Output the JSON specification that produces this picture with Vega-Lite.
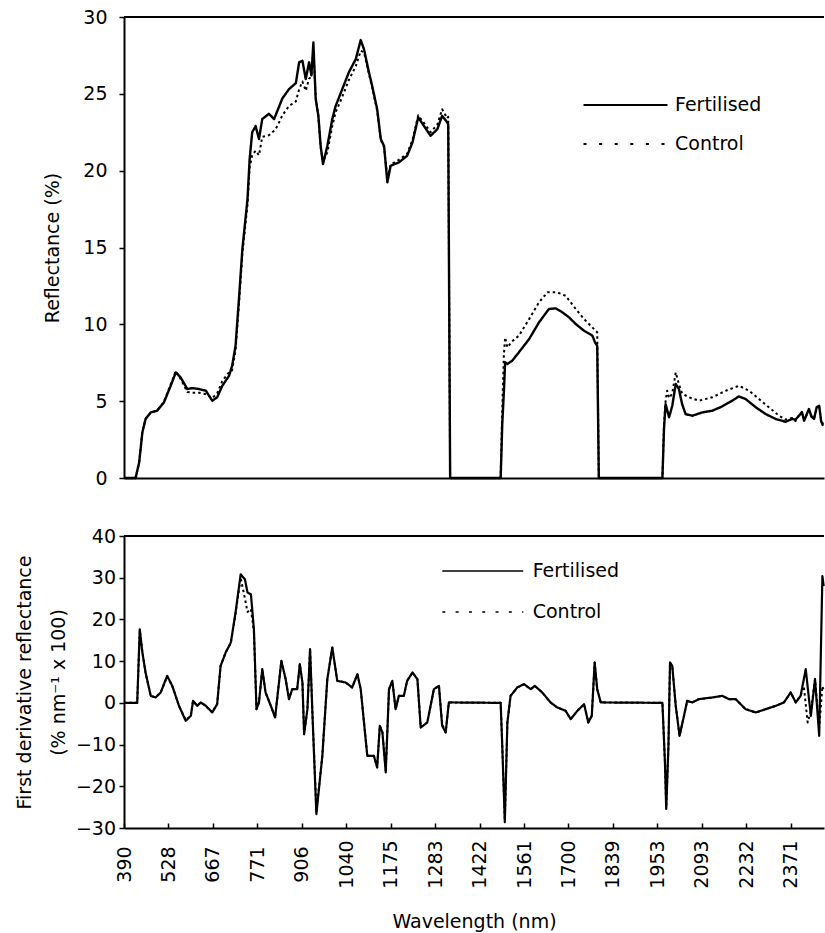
{
  "$schema": "https://vega.github.io/schema/vega-lite/v6.json",
  "background": "white",
  "padding": {"left": 15, "top": 8, "right": 0, "bottom": 0},
  "bounds": "flush",
  "spacing": 58,
  "datasets": {
    "top": [
      {"w":390,"s":"Control","v":0},{"w":426,"s":"Control","v":0},{"w":437,"s":"Control","v":1.0},{"w":447,"s":"Control","v":3.0},{"w":457,"s":"Control","v":3.85},{"w":473,"s":"Control","v":4.25},{"w":493,"s":"Control","v":4.4},{"w":514,"s":"Control","v":4.95},{"w":535,"s":"Control","v":6.1},{"w":551,"s":"Control","v":6.95},{"w":566,"s":"Control","v":6.45},{"w":587,"s":"Control","v":5.6},{"w":603,"s":"Control","v":5.55},{"w":624,"s":"Control","v":5.55},{"w":645,"s":"Control","v":5.45},{"w":665,"s":"Control","v":5.2},{"w":677,"s":"Control","v":5.5},{"w":689,"s":"Control","v":6.3},{"w":705,"s":"Control","v":6.9},{"w":712,"s":"Control","v":7.0},{"w":720,"s":"Control","v":8.3},{"w":728,"s":"Control","v":11.3},{"w":736,"s":"Control","v":14.6},{"w":748,"s":"Control","v":17.8},{"w":753,"s":"Control","v":20.2},{"w":759,"s":"Control","v":21.0},{"w":767,"s":"Control","v":21.3},{"w":776,"s":"Control","v":21.0},{"w":786,"s":"Control","v":22.2},{"w":806,"s":"Control","v":22.3},{"w":822,"s":"Control","v":22.6},{"w":832,"s":"Control","v":22.9},{"w":847,"s":"Control","v":23.6},{"w":867,"s":"Control","v":24.2},{"w":888,"s":"Control","v":24.5},{"w":898,"s":"Control","v":25.3},{"w":908,"s":"Control","v":25.8},{"w":918,"s":"Control","v":25.2},{"w":928,"s":"Control","v":26.0},{"w":935,"s":"Control","v":26.1},{"w":941,"s":"Control","v":27.8},{"w":948,"s":"Control","v":24.8},{"w":956,"s":"Control","v":23.5},{"w":963,"s":"Control","v":21.5},{"w":970,"s":"Control","v":20.6},{"w":983,"s":"Control","v":21.2},{"w":998,"s":"Control","v":22.9},{"w":1008,"s":"Control","v":23.8},{"w":1028,"s":"Control","v":24.8},{"w":1048,"s":"Control","v":25.9},{"w":1069,"s":"Control","v":26.8},{"w":1084,"s":"Control","v":27.8},{"w":1094,"s":"Control","v":27.7},{"w":1109,"s":"Control","v":26.3},{"w":1119,"s":"Control","v":25.4},{"w":1134,"s":"Control","v":23.9},{"w":1145,"s":"Control","v":22.0},{"w":1155,"s":"Control","v":21.5},{"w":1165,"s":"Control","v":19.5},{"w":1175,"s":"Control","v":20.4},{"w":1195,"s":"Control","v":20.7},{"w":1215,"s":"Control","v":21.1},{"w":1228,"s":"Control","v":22.0},{"w":1242,"s":"Control","v":23.6},{"w":1256,"s":"Control","v":23.1},{"w":1272,"s":"Control","v":22.5},{"w":1290,"s":"Control","v":23.0},{"w":1305,"s":"Control","v":24.0},{"w":1321,"s":"Control","v":23.4},{"w":1324,"s":"Control","v":23.5},{"w":1330,"s":"Control","v":0},{"w":1488,"s":"Control","v":0},{"w":1493,"s":"Control","v":4.5},{"w":1498,"s":"Control","v":8.0},{"w":1502,"s":"Control","v":9.15},{"w":1509,"s":"Control","v":8.5},{"w":1524,"s":"Control","v":8.9},{"w":1545,"s":"Control","v":9.26},{"w":1577,"s":"Control","v":10.34},{"w":1608,"s":"Control","v":11.43},{"w":1634,"s":"Control","v":12.08},{"w":1665,"s":"Control","v":12.08},{"w":1691,"s":"Control","v":11.86},{"w":1723,"s":"Control","v":11.0},{"w":1749,"s":"Control","v":10.34},{"w":1780,"s":"Control","v":9.69},{"w":1790,"s":"Control","v":9.48},{"w":1795,"s":"Control","v":0},{"w":1969,"s":"Control","v":0},{"w":1974,"s":"Control","v":3.5},{"w":1979,"s":"Control","v":5.0},{"w":1984,"s":"Control","v":5.68},{"w":1990,"s":"Control","v":5.2},{"w":2000,"s":"Control","v":5.5},{"w":2011,"s":"Control","v":6.87},{"w":2021,"s":"Control","v":6.1},{"w":2031,"s":"Control","v":5.5},{"w":2053,"s":"Control","v":5.25},{"w":2084,"s":"Control","v":5.03},{"w":2126,"s":"Control","v":5.25},{"w":2168,"s":"Control","v":5.68},{"w":2209,"s":"Control","v":6.0},{"w":2241,"s":"Control","v":5.68},{"w":2272,"s":"Control","v":5.14},{"w":2303,"s":"Control","v":4.6},{"w":2335,"s":"Control","v":4.05},{"w":2355,"s":"Control","v":3.8},{"w":2376,"s":"Control","v":3.9},{"w":2386,"s":"Control","v":3.7},{"w":2397,"s":"Control","v":4.1},{"w":2406,"s":"Control","v":4.2},{"w":2413,"s":"Control","v":3.8},{"w":2428,"s":"Control","v":4.4},{"w":2436,"s":"Control","v":4.0},{"w":2444,"s":"Control","v":3.9},{"w":2452,"s":"Control","v":4.5},{"w":2460,"s":"Control","v":4.6},{"w":2466,"s":"Control","v":3.8},{"w":2472,"s":"Control","v":3.5},
      {"w":390,"s":"Fertilised","v":0},{"w":426,"s":"Fertilised","v":0},{"w":437,"s":"Fertilised","v":1.0},{"w":447,"s":"Fertilised","v":2.97},{"w":457,"s":"Fertilised","v":3.84},{"w":473,"s":"Fertilised","v":4.27},{"w":493,"s":"Fertilised","v":4.38},{"w":514,"s":"Fertilised","v":4.92},{"w":535,"s":"Fertilised","v":6.0},{"w":551,"s":"Fertilised","v":6.87},{"w":566,"s":"Fertilised","v":6.55},{"w":587,"s":"Fertilised","v":5.79},{"w":603,"s":"Fertilised","v":5.85},{"w":624,"s":"Fertilised","v":5.79},{"w":645,"s":"Fertilised","v":5.68},{"w":665,"s":"Fertilised","v":5.03},{"w":677,"s":"Fertilised","v":5.25},{"w":689,"s":"Fertilised","v":6.0},{"w":705,"s":"Fertilised","v":6.66},{"w":712,"s":"Fertilised","v":7.3},{"w":720,"s":"Fertilised","v":8.6},{"w":728,"s":"Fertilised","v":11.65},{"w":736,"s":"Fertilised","v":14.9},{"w":748,"s":"Fertilised","v":18.15},{"w":753,"s":"Fertilised","v":20.75},{"w":759,"s":"Fertilised","v":22.5},{"w":767,"s":"Fertilised","v":22.9},{"w":776,"s":"Fertilised","v":22.06},{"w":786,"s":"Fertilised","v":23.36},{"w":806,"s":"Fertilised","v":23.7},{"w":822,"s":"Fertilised","v":23.36},{"w":832,"s":"Fertilised","v":23.9},{"w":847,"s":"Fertilised","v":24.7},{"w":867,"s":"Fertilised","v":25.3},{"w":888,"s":"Fertilised","v":25.7},{"w":898,"s":"Fertilised","v":27.05},{"w":908,"s":"Fertilised","v":27.15},{"w":918,"s":"Fertilised","v":25.96},{"w":928,"s":"Fertilised","v":27.05},{"w":935,"s":"Fertilised","v":26.2},{"w":941,"s":"Fertilised","v":28.35},{"w":948,"s":"Fertilised","v":24.66},{"w":956,"s":"Fertilised","v":23.57},{"w":963,"s":"Fertilised","v":21.6},{"w":970,"s":"Fertilised","v":20.43},{"w":983,"s":"Fertilised","v":21.6},{"w":998,"s":"Fertilised","v":23.36},{"w":1008,"s":"Fertilised","v":24.2},{"w":1028,"s":"Fertilised","v":25.3},{"w":1048,"s":"Fertilised","v":26.4},{"w":1069,"s":"Fertilised","v":27.26},{"w":1084,"s":"Fertilised","v":28.5},{"w":1094,"s":"Fertilised","v":27.9},{"w":1109,"s":"Fertilised","v":26.4},{"w":1119,"s":"Fertilised","v":25.5},{"w":1134,"s":"Fertilised","v":24.0},{"w":1145,"s":"Fertilised","v":22.06},{"w":1155,"s":"Fertilised","v":21.6},{"w":1165,"s":"Fertilised","v":19.24},{"w":1175,"s":"Fertilised","v":20.32},{"w":1195,"s":"Fertilised","v":20.54},{"w":1215,"s":"Fertilised","v":20.97},{"w":1228,"s":"Fertilised","v":21.84},{"w":1242,"s":"Fertilised","v":23.47},{"w":1256,"s":"Fertilised","v":22.9},{"w":1272,"s":"Fertilised","v":22.27},{"w":1290,"s":"Fertilised","v":22.7},{"w":1305,"s":"Fertilised","v":23.57},{"w":1321,"s":"Fertilised","v":23.14},{"w":1324,"s":"Fertilised","v":23.0},{"w":1330,"s":"Fertilised","v":0},{"w":1488,"s":"Fertilised","v":0},{"w":1493,"s":"Fertilised","v":3.5},{"w":1498,"s":"Fertilised","v":5.57},{"w":1502,"s":"Fertilised","v":7.53},{"w":1509,"s":"Fertilised","v":7.42},{"w":1524,"s":"Fertilised","v":7.63},{"w":1545,"s":"Fertilised","v":8.18},{"w":1577,"s":"Fertilised","v":9.04},{"w":1608,"s":"Fertilised","v":10.13},{"w":1639,"s":"Fertilised","v":11.0},{"w":1660,"s":"Fertilised","v":11.04},{"w":1681,"s":"Fertilised","v":10.78},{"w":1702,"s":"Fertilised","v":10.45},{"w":1723,"s":"Fertilised","v":10.02},{"w":1749,"s":"Fertilised","v":9.58},{"w":1775,"s":"Fertilised","v":9.26},{"w":1783,"s":"Fertilised","v":8.83},{"w":1790,"s":"Fertilised","v":8.6},{"w":1795,"s":"Fertilised","v":0},{"w":1969,"s":"Fertilised","v":0},{"w":1974,"s":"Fertilised","v":3.19},{"w":1979,"s":"Fertilised","v":4.81},{"w":1990,"s":"Fertilised","v":3.95},{"w":2000,"s":"Fertilised","v":4.7},{"w":2011,"s":"Fertilised","v":6.12},{"w":2021,"s":"Fertilised","v":5.79},{"w":2031,"s":"Fertilised","v":4.81},{"w":2042,"s":"Fertilised","v":4.16},{"w":2063,"s":"Fertilised","v":4.05},{"w":2095,"s":"Fertilised","v":4.27},{"w":2126,"s":"Fertilised","v":4.38},{"w":2157,"s":"Fertilised","v":4.66},{"w":2188,"s":"Fertilised","v":5.03},{"w":2209,"s":"Fertilised","v":5.31},{"w":2230,"s":"Fertilised","v":5.14},{"w":2262,"s":"Fertilised","v":4.6},{"w":2293,"s":"Fertilised","v":4.16},{"w":2324,"s":"Fertilised","v":3.84},{"w":2355,"s":"Fertilised","v":3.66},{"w":2376,"s":"Fertilised","v":3.84},{"w":2386,"s":"Fertilised","v":3.8},{"w":2397,"s":"Fertilised","v":4.05},{"w":2406,"s":"Fertilised","v":4.3},{"w":2413,"s":"Fertilised","v":3.73},{"w":2428,"s":"Fertilised","v":4.49},{"w":2436,"s":"Fertilised","v":4.0},{"w":2444,"s":"Fertilised","v":3.84},{"w":2452,"s":"Fertilised","v":4.6},{"w":2460,"s":"Fertilised","v":4.7},{"w":2466,"s":"Fertilised","v":3.7},{"w":2472,"s":"Fertilised","v":3.4}
    ],
    "bottom": [
      {"w":390,"s":"Control","v":0},{"w":431,"s":"Control","v":0},{"w":439,"s":"Control","v":17.4},{"w":447,"s":"Control","v":12.3},{"w":457,"s":"Control","v":7.1},{"w":473,"s":"Control","v":1.68},{"w":488,"s":"Control","v":1.29},{"w":504,"s":"Control","v":2.49},{"w":524,"s":"Control","v":6.3},{"w":540,"s":"Control","v":4.07},{"w":561,"s":"Control","v":-0.72},{"w":582,"s":"Control","v":-4.1},{"w":598,"s":"Control","v":-3.11},{"w":605,"s":"Control","v":0.48},{"w":618,"s":"Control","v":-0.72},{"w":629,"s":"Control","v":0.1},{"w":645,"s":"Control","v":-0.72},{"w":665,"s":"Control","v":-2.3},{"w":677,"s":"Control","v":-0.31},{"w":685,"s":"Control","v":8.86},{"w":697,"s":"Control","v":12.07},{"w":709,"s":"Control","v":14.46},{"w":720,"s":"Control","v":21.3},{"w":732,"s":"Control","v":30.0},{"w":742,"s":"Control","v":25.0},{"w":748,"s":"Control","v":21.8},{"w":756,"s":"Control","v":22.5},{"w":763,"s":"Control","v":17.0},{"w":769,"s":"Control","v":-1.51},{"w":776,"s":"Control","v":0.1},{"w":786,"s":"Control","v":8.07},{"w":796,"s":"Control","v":2.49},{"w":812,"s":"Control","v":-0.72},{"w":825,"s":"Control","v":-3.5},{"w":844,"s":"Control","v":10.06},{"w":857,"s":"Control","v":5.68},{"w":867,"s":"Control","v":0.89},{"w":877,"s":"Control","v":3.28},{"w":892,"s":"Control","v":3.28},{"w":900,"s":"Control","v":9.27},{"w":908,"s":"Control","v":4.89},{"w":913,"s":"Control","v":-7.5},{"w":923,"s":"Control","v":-1.51},{"w":931,"s":"Control","v":12.86},{"w":938,"s":"Control","v":-2.3},{"w":950,"s":"Control","v":-26.0},{"w":968,"s":"Control","v":-12.69},{"w":983,"s":"Control","v":5.68},{"w":998,"s":"Control","v":13.27},{"w":1013,"s":"Control","v":5.27},{"w":1038,"s":"Control","v":4.89},{"w":1058,"s":"Control","v":3.69},{"w":1074,"s":"Control","v":6.87},{"w":1084,"s":"Control","v":3.28},{"w":1104,"s":"Control","v":-12.69},{"w":1124,"s":"Control","v":-12.69},{"w":1134,"s":"Control","v":-15.47},{"w":1142,"s":"Control","v":-5.5},{"w":1150,"s":"Control","v":-7.09},{"w":1160,"s":"Control","v":-16.2},{"w":1170,"s":"Control","v":3.28},{"w":1179,"s":"Control","v":5.27},{"w":1187,"s":"Control","v":-1.51},{"w":1195,"s":"Control","v":1.68},{"w":1207,"s":"Control","v":1.68},{"w":1215,"s":"Control","v":5.27},{"w":1228,"s":"Control","v":7.28},{"w":1240,"s":"Control","v":5.68},{"w":1248,"s":"Control","v":-5.9},{"w":1264,"s":"Control","v":-4.7},{"w":1280,"s":"Control","v":3.28},{"w":1295,"s":"Control","v":4.07},{"w":1305,"s":"Control","v":-5.0},{"w":1316,"s":"Control","v":-7.09},{"w":1326,"s":"Control","v":0.1},{"w":1488,"s":"Control","v":0},{"w":1493,"s":"Control","v":-10.3},{"w":1501,"s":"Control","v":-28.0},{"w":1509,"s":"Control","v":-4.7},{"w":1519,"s":"Control","v":1.68},{"w":1540,"s":"Control","v":3.69},{"w":1561,"s":"Control","v":4.48},{"w":1582,"s":"Control","v":3.28},{"w":1595,"s":"Control","v":4.07},{"w":1618,"s":"Control","v":2.49},{"w":1644,"s":"Control","v":0.1},{"w":1665,"s":"Control","v":-1.1},{"w":1691,"s":"Control","v":-1.9},{"w":1707,"s":"Control","v":-3.9},{"w":1728,"s":"Control","v":-1.9},{"w":1749,"s":"Control","v":-0.31},{"w":1762,"s":"Control","v":-4.7},{"w":1773,"s":"Control","v":-3.11},{"w":1782,"s":"Control","v":9.67},{"w":1790,"s":"Control","v":3.28},{"w":1801,"s":"Control","v":0.1},{"w":1969,"s":"Control","v":0},{"w":1977,"s":"Control","v":-14.27},{"w":1981,"s":"Control","v":-25.0},{"w":1988,"s":"Control","v":-10.3},{"w":1993,"s":"Control","v":9.67},{"w":2000,"s":"Control","v":8.86},{"w":2011,"s":"Control","v":-0.72},{"w":2023,"s":"Control","v":-7.9},{"w":2037,"s":"Control","v":-3.11},{"w":2047,"s":"Control","v":0.48},{"w":2063,"s":"Control","v":0.1},{"w":2084,"s":"Control","v":0.89},{"w":2126,"s":"Control","v":1.29},{"w":2157,"s":"Control","v":1.68},{"w":2178,"s":"Control","v":0.89},{"w":2199,"s":"Control","v":0.89},{"w":2230,"s":"Control","v":-1.51},{"w":2262,"s":"Control","v":-2.3},{"w":2293,"s":"Control","v":-1.51},{"w":2324,"s":"Control","v":-0.72},{"w":2350,"s":"Control","v":0.1},{"w":2371,"s":"Control","v":2.49},{"w":2387,"s":"Control","v":0.1},{"w":2402,"s":"Control","v":1.68},{"w":2412,"s":"Control","v":4.0},{"w":2424,"s":"Control","v":-4.7},{"w":2434,"s":"Control","v":-2.0},{"w":2447,"s":"Control","v":5.68},{"w":2460,"s":"Control","v":-6.0},{"w":2470,"s":"Control","v":4.0},{"w":2474,"s":"Control","v":3.0},
      {"w":390,"s":"Fertilised","v":0},{"w":431,"s":"Fertilised","v":0},{"w":439,"s":"Fertilised","v":17.65},{"w":447,"s":"Fertilised","v":12.07},{"w":457,"s":"Fertilised","v":7.28},{"w":473,"s":"Fertilised","v":1.68},{"w":488,"s":"Fertilised","v":1.29},{"w":504,"s":"Fertilised","v":2.49},{"w":524,"s":"Fertilised","v":6.47},{"w":540,"s":"Fertilised","v":4.07},{"w":561,"s":"Fertilised","v":-0.72},{"w":582,"s":"Fertilised","v":-4.31},{"w":598,"s":"Fertilised","v":-3.11},{"w":605,"s":"Fertilised","v":0.48},{"w":618,"s":"Fertilised","v":-0.72},{"w":629,"s":"Fertilised","v":0.1},{"w":645,"s":"Fertilised","v":-0.72},{"w":665,"s":"Fertilised","v":-2.3},{"w":677,"s":"Fertilised","v":-0.31},{"w":685,"s":"Fertilised","v":8.86},{"w":697,"s":"Fertilised","v":12.07},{"w":709,"s":"Fertilised","v":14.46},{"w":720,"s":"Fertilised","v":21.65},{"w":732,"s":"Fertilised","v":30.82},{"w":742,"s":"Fertilised","v":29.62},{"w":748,"s":"Fertilised","v":26.44},{"w":756,"s":"Fertilised","v":26.03},{"w":763,"s":"Fertilised","v":17.65},{"w":769,"s":"Fertilised","v":-1.51},{"w":776,"s":"Fertilised","v":0.1},{"w":786,"s":"Fertilised","v":8.07},{"w":796,"s":"Fertilised","v":2.49},{"w":812,"s":"Fertilised","v":-0.72},{"w":825,"s":"Fertilised","v":-3.5},{"w":844,"s":"Fertilised","v":10.06},{"w":857,"s":"Fertilised","v":5.68},{"w":867,"s":"Fertilised","v":0.89},{"w":877,"s":"Fertilised","v":3.28},{"w":892,"s":"Fertilised","v":3.28},{"w":900,"s":"Fertilised","v":9.27},{"w":908,"s":"Fertilised","v":4.89},{"w":913,"s":"Fertilised","v":-7.5},{"w":923,"s":"Fertilised","v":-1.51},{"w":931,"s":"Fertilised","v":12.86},{"w":938,"s":"Fertilised","v":-2.3},{"w":950,"s":"Fertilised","v":-26.65},{"w":968,"s":"Fertilised","v":-12.69},{"w":983,"s":"Fertilised","v":5.68},{"w":998,"s":"Fertilised","v":13.27},{"w":1013,"s":"Fertilised","v":5.27},{"w":1038,"s":"Fertilised","v":4.89},{"w":1058,"s":"Fertilised","v":3.69},{"w":1074,"s":"Fertilised","v":6.87},{"w":1084,"s":"Fertilised","v":3.28},{"w":1104,"s":"Fertilised","v":-12.69},{"w":1124,"s":"Fertilised","v":-12.69},{"w":1134,"s":"Fertilised","v":-15.47},{"w":1142,"s":"Fertilised","v":-5.5},{"w":1150,"s":"Fertilised","v":-7.09},{"w":1160,"s":"Fertilised","v":-16.67},{"w":1170,"s":"Fertilised","v":3.28},{"w":1179,"s":"Fertilised","v":5.27},{"w":1187,"s":"Fertilised","v":-1.51},{"w":1195,"s":"Fertilised","v":1.68},{"w":1207,"s":"Fertilised","v":1.68},{"w":1215,"s":"Fertilised","v":5.27},{"w":1228,"s":"Fertilised","v":7.28},{"w":1240,"s":"Fertilised","v":5.68},{"w":1248,"s":"Fertilised","v":-5.9},{"w":1264,"s":"Fertilised","v":-4.7},{"w":1280,"s":"Fertilised","v":3.28},{"w":1295,"s":"Fertilised","v":4.07},{"w":1305,"s":"Fertilised","v":-5.5},{"w":1316,"s":"Fertilised","v":-7.09},{"w":1326,"s":"Fertilised","v":0.1},{"w":1488,"s":"Fertilised","v":0},{"w":1493,"s":"Fertilised","v":-10.3},{"w":1501,"s":"Fertilised","v":-28.6},{"w":1509,"s":"Fertilised","v":-4.7},{"w":1519,"s":"Fertilised","v":1.68},{"w":1540,"s":"Fertilised","v":3.69},{"w":1561,"s":"Fertilised","v":4.48},{"w":1582,"s":"Fertilised","v":3.28},{"w":1595,"s":"Fertilised","v":4.07},{"w":1618,"s":"Fertilised","v":2.49},{"w":1644,"s":"Fertilised","v":0.1},{"w":1665,"s":"Fertilised","v":-1.1},{"w":1691,"s":"Fertilised","v":-1.9},{"w":1707,"s":"Fertilised","v":-3.9},{"w":1728,"s":"Fertilised","v":-1.9},{"w":1749,"s":"Fertilised","v":-0.31},{"w":1762,"s":"Fertilised","v":-4.7},{"w":1773,"s":"Fertilised","v":-3.11},{"w":1782,"s":"Fertilised","v":9.67},{"w":1790,"s":"Fertilised","v":3.28},{"w":1801,"s":"Fertilised","v":0.1},{"w":1969,"s":"Fertilised","v":0},{"w":1977,"s":"Fertilised","v":-14.27},{"w":1981,"s":"Fertilised","v":-25.45},{"w":1988,"s":"Fertilised","v":-10.3},{"w":1993,"s":"Fertilised","v":9.67},{"w":2000,"s":"Fertilised","v":8.86},{"w":2011,"s":"Fertilised","v":-0.72},{"w":2023,"s":"Fertilised","v":-7.9},{"w":2037,"s":"Fertilised","v":-3.11},{"w":2047,"s":"Fertilised","v":0.48},{"w":2063,"s":"Fertilised","v":0.1},{"w":2084,"s":"Fertilised","v":0.89},{"w":2126,"s":"Fertilised","v":1.29},{"w":2157,"s":"Fertilised","v":1.68},{"w":2178,"s":"Fertilised","v":0.89},{"w":2199,"s":"Fertilised","v":0.89},{"w":2230,"s":"Fertilised","v":-1.51},{"w":2262,"s":"Fertilised","v":-2.3},{"w":2293,"s":"Fertilised","v":-1.51},{"w":2324,"s":"Fertilised","v":-0.72},{"w":2350,"s":"Fertilised","v":0.1},{"w":2371,"s":"Fertilised","v":2.49},{"w":2387,"s":"Fertilised","v":0.1},{"w":2402,"s":"Fertilised","v":1.68},{"w":2418,"s":"Fertilised","v":8.07},{"w":2434,"s":"Fertilised","v":-3.11},{"w":2447,"s":"Fertilised","v":5.68},{"w":2460,"s":"Fertilised","v":-7.9},{"w":2470,"s":"Fertilised","v":30.4},{"w":2474,"s":"Fertilised","v":28}
    ]
  },
  "vconcat": [
    {
      "width": 700,
      "height": 461,
      "layer": [
        {
          "data": {"name": "top"},
          "encoding": {
            "x": {"field": "w", "type": "quantitative",
              "scale": {"domain": [390,528,667,771,906,1040,1175,1283,1422,1561,1700,1839,1953,2093,2232,2371,2475], "range": [0,44.444,88.889,133.333,177.778,222.222,266.667,311.111,355.556,400,444.444,488.889,533.333,577.778,622.222,666.667,700], "nice": false, "zero": false},
              "axis": {"labels": false, "ticks": false, "title": null, "domainWidth": 2}},
            "y": {"field": "v", "type": "quantitative",
              "scale": {"domain": [0, 30], "nice": false, "zero": false},
              "axis": {"title": "Reflectance (%)", "values": [0,5,10,15,20,25,30], "labelPadding": 12, "titlePadding": 20}},
            "strokeDash": {"field": "s", "type": "nominal",
              "scale": {"domain": ["Fertilised", "Control"], "range": [[1, 0], [2.5, 3]]},
              "legend": null}
          },
          "layer": [
            {"transform": [{"filter": "datum.s === 'Control'"}], "mark": {"type": "line", "color": "black", "strokeWidth": 2, "strokeJoin": "round"}},
            {"transform": [{"filter": "datum.s === 'Fertilised'"}], "mark": {"type": "line", "color": "black", "strokeWidth": 2.4, "strokeJoin": "round"}}
          ]
        },
        {
          "data": {"name": "top"},
          "transform": [{"filter": "datum.w === 390"}],
          "mark": {"type": "line", "color": "black", "strokeWidth": 2},
          "encoding": {
            "x": {"field": "w", "type": "quantitative"},
            "y": {"field": "v", "type": "quantitative"},
            "strokeDash": {"field": "s", "type": "nominal",
              "scale": {"domain": ["Fertilised", "Control"], "range": [[1, 0], [3, 12.6]]},
              "legend": {"orient": "none", "legendX": 492, "legendY": 78.5, "title": null, "symbolType": "M-6,0H6", "symbolSize": 196, "symbolStrokeWidth": 2, "symbolStrokeColor": "black", "labelOffset": 40, "rowPadding": 19, "padding": 0}}
          }
        },
        {
          "data": {"values": [{}]},
          "mark": {"type": "rule", "color": "black", "strokeWidth": 2},
          "encoding": {"y": {"datum": 30, "type": "quantitative"}}
        }
      ],
      "resolve": {"scale": {"strokeDash": "independent"}}
    },
    {
      "width": 700,
      "height": 292,
      "layer": [
        {
          "data": {"name": "bottom"},
          "encoding": {
            "x": {"field": "w", "type": "quantitative",
              "scale": {"domain": [390,528,667,771,906,1040,1175,1283,1422,1561,1700,1839,1953,2093,2232,2371,2475], "range": [0,44.444,88.889,133.333,177.778,222.222,266.667,311.111,355.556,400,444.444,488.889,533.333,577.778,622.222,666.667,700], "nice": false, "zero": false},
              "axis": {"title": "Wavelength (nm)", "values": [390,528,667,771,906,1040,1175,1283,1422,1561,1700,1839,1953,2093,2232,2371], "format": "d", "labelAngle": 270, "labelAlign": "center", "labelBaseline": "middle", "tickSize": -5, "labelPadding": 41, "titlePadding": 24, "labelOverlap": false, "labelFlush": false, "domainWidth": 2}},
            "y": {"field": "v", "type": "quantitative",
              "scale": {"domain": [-30, 40], "nice": false, "zero": false},
              "axis": {"title": ["First derivative reflectance", "(% nm⁻¹ x 100)"], "values": [-30,-20,-10,0,10,20,30,40], "labelPadding": 3.5, "titlePadding": 7, "titleLineHeight": 34}},
            "strokeDash": {"field": "s", "type": "nominal",
              "scale": {"domain": ["Fertilised", "Control"], "range": [[1, 0], [2.5, 3]]},
              "legend": null}
          },
          "layer": [
            {"transform": [{"filter": "datum.s === 'Control'"}], "mark": {"type": "line", "color": "black", "strokeWidth": 2, "strokeJoin": "round"}},
            {"transform": [{"filter": "datum.s === 'Fertilised'"}], "mark": {"type": "line", "color": "black", "strokeWidth": 2.2, "strokeJoin": "round"}}
          ]
        },
        {
          "data": {"name": "bottom"},
          "transform": [{"filter": "datum.w === 390"}],
          "mark": {"type": "line", "color": "black", "strokeWidth": 2},
          "encoding": {
            "x": {"field": "w", "type": "quantitative"},
            "y": {"field": "v", "type": "quantitative"},
            "strokeDash": {"field": "s", "type": "nominal",
              "scale": {"domain": ["Fertilised", "Control"], "range": [[1, 0], [3, 10.3]]},
              "legend": {"orient": "none", "legendX": 349.3, "legendY": 25.5, "title": null, "symbolType": "M-6,0H6", "symbolSize": 182, "symbolStrokeWidth": 1.6, "symbolStrokeColor": "black", "labelOffset": 40.4, "rowPadding": 21, "padding": 0}}
          }
        },
        {
          "data": {"values": [{}]},
          "mark": {"type": "rule", "color": "black", "strokeWidth": 2},
          "encoding": {"y": {"datum": 40, "type": "quantitative"}}
        }
      ],
      "resolve": {"scale": {"strokeDash": "independent"}}
    }
  ],
  "resolve": {"scale": {"strokeDash": "independent", "y": "independent", "x": "independent"}, "legend": {"strokeDash": "independent"}},
  "config": {
    "font": "DejaVu Sans",
    "view": {"stroke": null},
    "axis": {"grid": false, "domainColor": "black", "domainWidth": 2, "tickColor": "black", "tickWidth": 1.5, "tickSize": 5, "labelColor": "black", "labelFont": "DejaVu Sans", "labelFontSize": 19, "titleColor": "black", "titleFont": "DejaVu Sans", "titleFontSize": 19, "titleFontWeight": "normal"},
    "legend": {"labelFont": "DejaVu Sans", "labelFontSize": 19, "labelColor": "black", "labelLimit": 300}
  }
}
